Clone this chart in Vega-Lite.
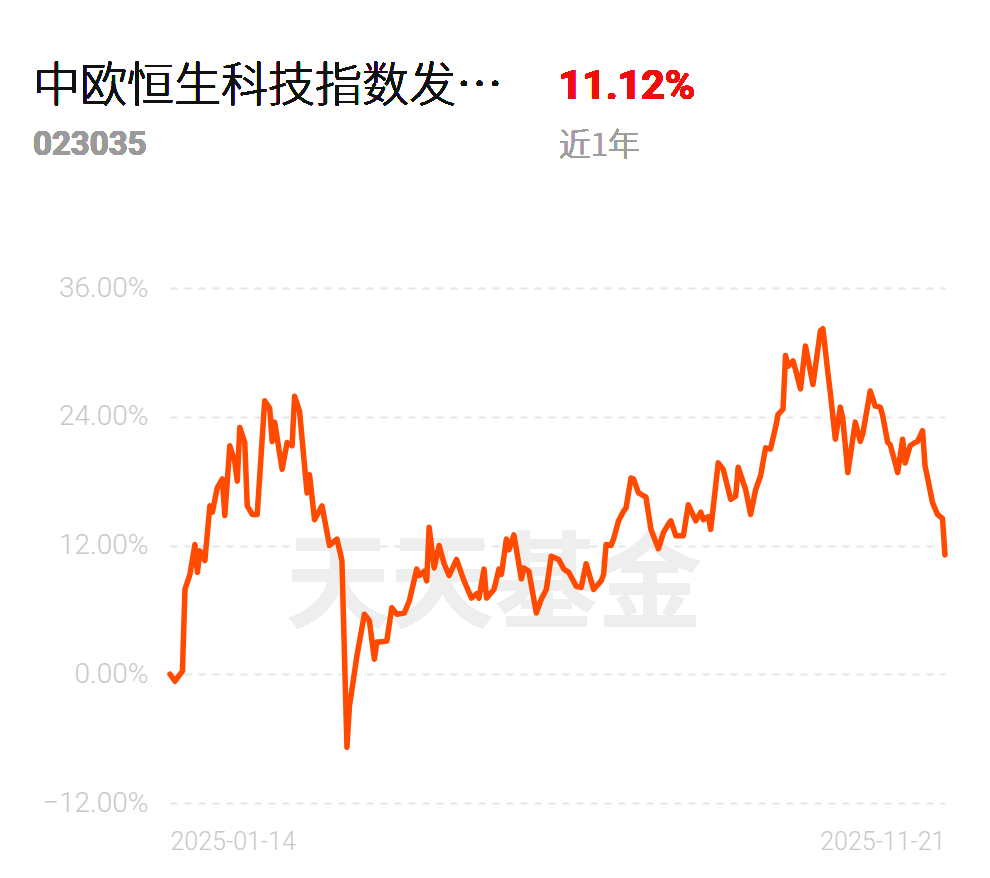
{
  "$schema": "https://vega.github.io/schema/vega-lite/v6.json",
  "width": 775,
  "height": 515,
  "autosize": "none",
  "padding": {"left": 170, "top": 288, "right": 45, "bottom": 75},
  "background": "#ffffff",
  "config": {"view": {"stroke": null}},
  "datasets": {
    "nav": [
      {"date": "2025-01-14", "ret": 0},
      {"date": "2025-01-16", "ret": -0.65},
      {"date": "2025-01-19", "ret": 0.3},
      {"date": "2025-01-20", "ret": 7.9},
      {"date": "2025-01-22", "ret": 9.3},
      {"date": "2025-01-24", "ret": 12.1},
      {"date": "2025-01-25", "ret": 9.5},
      {"date": "2025-01-26", "ret": 11.5},
      {"date": "2025-01-28", "ret": 10.6},
      {"date": "2025-01-30", "ret": 15.7},
      {"date": "2025-01-31", "ret": 15.1},
      {"date": "2025-02-02", "ret": 17.4},
      {"date": "2025-02-04", "ret": 18.2},
      {"date": "2025-02-05", "ret": 14.8},
      {"date": "2025-02-07", "ret": 21.3},
      {"date": "2025-02-09", "ret": 19.8},
      {"date": "2025-02-10", "ret": 18.0},
      {"date": "2025-02-11", "ret": 23.0},
      {"date": "2025-02-13", "ret": 21.6},
      {"date": "2025-02-14", "ret": 15.7},
      {"date": "2025-02-16", "ret": 14.9},
      {"date": "2025-02-18", "ret": 14.9},
      {"date": "2025-02-21", "ret": 25.5},
      {"date": "2025-02-23", "ret": 24.8},
      {"date": "2025-02-24", "ret": 21.7},
      {"date": "2025-02-25", "ret": 23.5},
      {"date": "2025-02-28", "ret": 19.1},
      {"date": "2025-03-02", "ret": 21.6},
      {"date": "2025-03-04", "ret": 21.3},
      {"date": "2025-03-05", "ret": 25.9},
      {"date": "2025-03-07", "ret": 24.5},
      {"date": "2025-03-10", "ret": 16.9},
      {"date": "2025-03-11", "ret": 18.6},
      {"date": "2025-03-13", "ret": 14.4},
      {"date": "2025-03-16", "ret": 15.7},
      {"date": "2025-03-19", "ret": 12.0},
      {"date": "2025-03-22", "ret": 12.6},
      {"date": "2025-03-24", "ret": 10.6},
      {"date": "2025-03-26", "ret": -6.8},
      {"date": "2025-03-27", "ret": -3.0},
      {"date": "2025-03-30", "ret": 1.7},
      {"date": "2025-04-02", "ret": 5.6},
      {"date": "2025-04-04", "ret": 5.0},
      {"date": "2025-04-06", "ret": 1.4},
      {"date": "2025-04-07", "ret": 3.0},
      {"date": "2025-04-08", "ret": 3.0},
      {"date": "2025-04-11", "ret": 3.1},
      {"date": "2025-04-13", "ret": 6.2},
      {"date": "2025-04-15", "ret": 5.6},
      {"date": "2025-04-18", "ret": 5.7},
      {"date": "2025-04-20", "ret": 6.8},
      {"date": "2025-04-23", "ret": 9.8},
      {"date": "2025-04-24", "ret": 9.2},
      {"date": "2025-04-26", "ret": 9.6},
      {"date": "2025-04-27", "ret": 8.7},
      {"date": "2025-04-28", "ret": 13.7},
      {"date": "2025-04-30", "ret": 9.9},
      {"date": "2025-05-02", "ret": 12.0},
      {"date": "2025-05-04", "ret": 10.3},
      {"date": "2025-05-06", "ret": 9.2},
      {"date": "2025-05-09", "ret": 10.7},
      {"date": "2025-05-12", "ret": 8.7},
      {"date": "2025-05-15", "ret": 7.1},
      {"date": "2025-05-17", "ret": 7.5},
      {"date": "2025-05-18", "ret": 7.1},
      {"date": "2025-05-20", "ret": 9.8},
      {"date": "2025-05-21", "ret": 7.1},
      {"date": "2025-05-24", "ret": 7.9},
      {"date": "2025-05-26", "ret": 9.8},
      {"date": "2025-05-27", "ret": 9.3},
      {"date": "2025-05-29", "ret": 12.6},
      {"date": "2025-05-30", "ret": 11.6},
      {"date": "2025-06-01", "ret": 13.0},
      {"date": "2025-06-04", "ret": 8.9},
      {"date": "2025-06-05", "ret": 9.9},
      {"date": "2025-06-07", "ret": 9.6},
      {"date": "2025-06-10", "ret": 5.7},
      {"date": "2025-06-12", "ret": 7.0},
      {"date": "2025-06-14", "ret": 7.9},
      {"date": "2025-06-16", "ret": 11.0},
      {"date": "2025-06-19", "ret": 10.7},
      {"date": "2025-06-21", "ret": 9.8},
      {"date": "2025-06-23", "ret": 9.5},
      {"date": "2025-06-26", "ret": 8.2},
      {"date": "2025-06-28", "ret": 8.1},
      {"date": "2025-06-30", "ret": 10.3},
      {"date": "2025-07-03", "ret": 7.9},
      {"date": "2025-07-06", "ret": 8.7},
      {"date": "2025-07-07", "ret": 9.3},
      {"date": "2025-07-08", "ret": 12.1},
      {"date": "2025-07-10", "ret": 12.0},
      {"date": "2025-07-11", "ret": 12.6},
      {"date": "2025-07-13", "ret": 14.3},
      {"date": "2025-07-15", "ret": 15.2},
      {"date": "2025-07-16", "ret": 15.5},
      {"date": "2025-07-18", "ret": 18.3},
      {"date": "2025-07-19", "ret": 18.2},
      {"date": "2025-07-21", "ret": 16.9},
      {"date": "2025-07-24", "ret": 16.5},
      {"date": "2025-07-26", "ret": 13.5},
      {"date": "2025-07-29", "ret": 11.7},
      {"date": "2025-07-31", "ret": 13.2},
      {"date": "2025-08-02", "ret": 14.0},
      {"date": "2025-08-03", "ret": 14.3},
      {"date": "2025-08-05", "ret": 12.9},
      {"date": "2025-08-08", "ret": 12.9},
      {"date": "2025-08-10", "ret": 15.8},
      {"date": "2025-08-13", "ret": 14.3},
      {"date": "2025-08-15", "ret": 15.1},
      {"date": "2025-08-16", "ret": 14.4},
      {"date": "2025-08-18", "ret": 14.7},
      {"date": "2025-08-19", "ret": 13.5},
      {"date": "2025-08-22", "ret": 19.7},
      {"date": "2025-08-24", "ret": 19.1},
      {"date": "2025-08-27", "ret": 16.3},
      {"date": "2025-08-29", "ret": 16.6},
      {"date": "2025-08-30", "ret": 19.3},
      {"date": "2025-09-02", "ret": 17.2},
      {"date": "2025-09-04", "ret": 14.9},
      {"date": "2025-09-06", "ret": 17.2},
      {"date": "2025-09-08", "ret": 18.5},
      {"date": "2025-09-10", "ret": 21.1},
      {"date": "2025-09-12", "ret": 21.0},
      {"date": "2025-09-14", "ret": 23.0},
      {"date": "2025-09-15", "ret": 24.2},
      {"date": "2025-09-17", "ret": 24.7},
      {"date": "2025-09-18", "ret": 29.7},
      {"date": "2025-09-19", "ret": 28.7},
      {"date": "2025-09-21", "ret": 29.2},
      {"date": "2025-09-22", "ret": 28.4},
      {"date": "2025-09-24", "ret": 26.6},
      {"date": "2025-09-26", "ret": 30.6},
      {"date": "2025-09-29", "ret": 27.0},
      {"date": "2025-10-02", "ret": 32.0},
      {"date": "2025-10-03", "ret": 32.2},
      {"date": "2025-10-05", "ret": 28.1},
      {"date": "2025-10-06", "ret": 26.2},
      {"date": "2025-10-08", "ret": 21.9},
      {"date": "2025-10-10", "ret": 24.9},
      {"date": "2025-10-11", "ret": 23.8},
      {"date": "2025-10-13", "ret": 18.8},
      {"date": "2025-10-16", "ret": 23.5},
      {"date": "2025-10-18", "ret": 21.7},
      {"date": "2025-10-19", "ret": 22.4},
      {"date": "2025-10-22", "ret": 26.4},
      {"date": "2025-10-24", "ret": 25.0},
      {"date": "2025-10-26", "ret": 24.9},
      {"date": "2025-10-27", "ret": 24.1},
      {"date": "2025-10-29", "ret": 21.6},
      {"date": "2025-10-30", "ret": 21.4},
      {"date": "2025-11-01", "ret": 19.7},
      {"date": "2025-11-02", "ret": 18.8},
      {"date": "2025-11-04", "ret": 21.9},
      {"date": "2025-11-05", "ret": 19.7},
      {"date": "2025-11-07", "ret": 21.3},
      {"date": "2025-11-09", "ret": 21.6},
      {"date": "2025-11-10", "ret": 21.7},
      {"date": "2025-11-12", "ret": 22.7},
      {"date": "2025-11-13", "ret": 19.4},
      {"date": "2025-11-14", "ret": 18.3},
      {"date": "2025-11-16", "ret": 16.0},
      {"date": "2025-11-18", "ret": 14.9},
      {"date": "2025-11-20", "ret": 14.5},
      {"date": "2025-11-21", "ret": 11.12}
    ]
  },
  "data": {"name": "nav"},
  "layer": [
    {
      "mark": {"type": "text", "text": "天天基金", "font": "Noto Sans CJK SC", "fontWeight": "bold", "fontSize": 104, "color": "#eeeeee", "align": "center", "baseline": "middle"},
      "encoding": {
        "x": {"datum": {"year": 2025, "month": 5, "date": 24, "utc": true}, "type": "temporal"},
        "y": {"datum": 7.9, "type": "quantitative"}
      }
    },
    {
      "mark": {"type": "line", "color": "#ff4a00", "strokeWidth": 5.5, "strokeJoin": "round", "strokeCap": "round", "clip": false},
      "encoding": {
        "x": {
          "field": "date",
          "type": "temporal",
          "scale": {"type": "utc", "domain": [{"year": 2025, "month": 1, "date": 14, "utc": true}, {"year": 2025, "month": 11, "date": 21, "utc": true}]},
          "axis": {
            "title": null,
            "values": [{"year": 2025, "month": 1, "date": 14, "utc": true}, {"year": 2025, "month": 11, "date": 21, "utc": true}],
            "labelExpr": "utcFormat(datum.value, '%Y-%m-%d')",
            "labelFlush": true,
            "labelFont": "Roboto",
            "labelFontWeight": 300,
            "labelFontSize": 25,
            "labelColor": "#c8c8c8",
            "labelPadding": 26,
            "domain": false,
            "ticks": false,
            "grid": false
          }
        },
        "y": {
          "field": "ret",
          "type": "quantitative",
          "scale": {"domain": [-12, 36], "nice": false, "zero": false},
          "axis": {
            "title": null,
            "values": [-12, 0, 12, 24, 36],
            "labelExpr": "format(datum.value, '.2f') + '%'",
            "labelFont": "Roboto",
            "labelFontWeight": 300,
            "labelFontSize": 28,
            "labelColor": "#c8c8c8",
            "labelPadding": 22,
            "domain": false,
            "ticks": false,
            "grid": true,
            "gridColor": "#e6e6e6",
            "gridWidth": 2,
            "gridDash": [7, 7]
          }
        }
      }
    },
    {
      "mark": {"type": "text", "text": "中欧恒生科技指数发…", "font": "Noto Sans CJK SC", "fontWeight": 300, "fontSize": 47, "color": "#111111", "align": "left", "baseline": "middle"},
      "encoding": {
        "x": {"datum": {"year": 2024, "month": 11, "date": 20, "utc": true}, "type": "temporal"},
        "y": {"datum": 54.7, "type": "quantitative"}
      }
    },
    {
      "mark": {"type": "text", "text": "023035", "font": "Roboto", "fontWeight": "bold", "fontSize": 33, "color": "#9a9a9a", "align": "left", "baseline": "middle"},
      "encoding": {
        "x": {"datum": {"year": 2024, "month": 11, "date": 20, "utc": true}, "type": "temporal"},
        "y": {"datum": 49.3, "type": "quantitative"}
      }
    },
    {
      "mark": {"type": "text", "text": "11.12%", "font": "Roboto", "fontWeight": "bold", "fontSize": 41, "color": "#f20d0d", "align": "left", "baseline": "middle"},
      "encoding": {
        "x": {"datum": {"year": 2025, "month": 6, "date": 19, "utc": true}, "type": "temporal"},
        "y": {"datum": 54.7, "type": "quantitative"}
      }
    },
    {
      "mark": {"type": "text", "text": "近1年", "font": "Noto Sans CJK SC", "fontWeight": 300, "fontSize": 32, "color": "#9e9e9e", "align": "left", "baseline": "middle"},
      "encoding": {
        "x": {"datum": {"year": 2025, "month": 6, "date": 19, "utc": true}, "type": "temporal"},
        "y": {"datum": 49.2, "type": "quantitative"}
      }
    }
  ]
}
